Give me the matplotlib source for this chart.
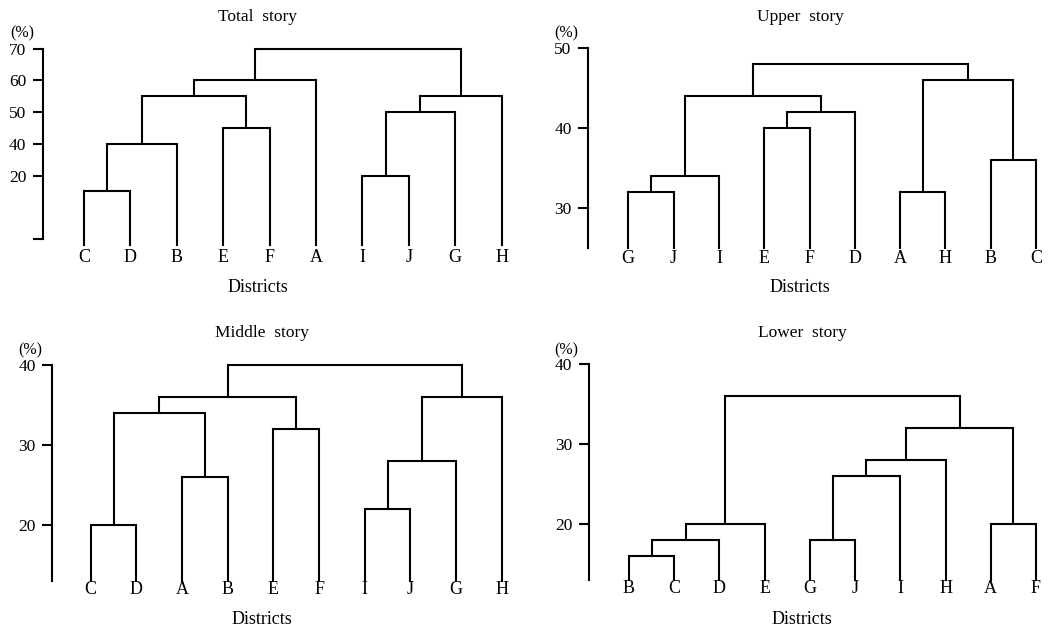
import numpy as np
import matplotlib
matplotlib.use('Agg')
import matplotlib.pyplot as plt

plt.rcParams['font.family'] = ['Liberation Serif', 'DejaVu Serif']

# -- data: leaf order and merges (left, right, height in %); ints refer to earlier merges
total_leaves  = ['C', 'D', 'B', 'E', 'F', 'A', 'I', 'J', 'G', 'H']
total_merges  = [('C', 'D', 15), (0, 'B', 40), ('E', 'F', 45), (1, 2, 55), (3, 'A', 60),
                 ('I', 'J', 20), (5, 'G', 50), (6, 'H', 55), (4, 7, 70)]
total_ticks   = [0, 20, 40, 50, 60, 70]
total_tlabels = ['', '20', '40', '50', '60', '70']

upper_leaves  = ['G', 'J', 'I', 'E', 'F', 'D', 'A', 'H', 'B', 'C']
upper_merges  = [('G', 'J', 32), (0, 'I', 34), ('E', 'F', 40), (2, 'D', 42), (1, 3, 44),
                 ('A', 'H', 32), ('B', 'C', 36), (5, 6, 46), (4, 7, 48)]
upper_ticks   = [30, 40, 50]

middle_leaves = ['C', 'D', 'A', 'B', 'E', 'F', 'I', 'J', 'G', 'H']
middle_merges = [('C', 'D', 20), ('A', 'B', 26), (0, 1, 34), ('E', 'F', 32), (2, 3, 36),
                 ('I', 'J', 22), (5, 'G', 28), (6, 'H', 36), (4, 7, 40)]
middle_ticks  = [20, 30, 40]

lower_leaves  = ['B', 'C', 'D', 'E', 'G', 'J', 'I', 'H', 'A', 'F']
lower_merges  = [('B', 'C', 16), (0, 'D', 18), (1, 'E', 20), ('G', 'J', 18), (3, 'I', 26),
                 (4, 'H', 28), ('A', 'F', 20), (5, 6, 32), (2, 7, 36)]
lower_ticks   = [20, 30, 40]

# the "Total story" axis is not linear: 20 -> 40 takes the same room as 40 -> 50
total_vals = [-20, 0, 20, 40, 50, 60, 70]
total_pos  = [0, 10, 30, 40, 50, 60, 70]

W, H = 1055, 630
fig  = plt.figure(figsize=(W / 100, H / 100), dpi=100)
fig.patch.set_facecolor('white')


def tree_segments(leaves, merges, base):
    xs   = {name: float(i) for i, name in enumerate(leaves)}
    hs   = {name: base for name in leaves}
    segs = []
    for k, (a, b, h) in enumerate(merges):
        segs.append(([xs[a], xs[a], xs[b], xs[b]], [hs[a], h, h, hs[b]]))
        xs[k] = 0.5 * (xs[a] + xs[b])
        hs[k] = h
    return segs


def panel(box, first, last, leaves, merges, ylim, ticks, tlabels, title,
          title_xy, pct_xy, dist_xy, leaf_pad, scale=None, spine_lo=None):
    left, top, right, bottom = box
    ax = fig.add_axes([left / W, 1 - bottom / H, (right - left) / W, (bottom - top) / H])
    n  = len(leaves)
    s  = (last - first) / (n - 1)
    ax.set_xlim(-(first - left) / s, n - 1 + (right - last) / s)
    if scale is not None:
        ax.set_yscale('function', functions=scale)
    ax.set_ylim(*ylim)

    for xx, yy in tree_segments(leaves, merges, ylim[0]):
        ax.plot(xx, yy, color='black', lw=1.5, clip_on=False, solid_joinstyle='miter')

    for side in ['top', 'right', 'bottom']:
        ax.spines[side].set_visible(False)
    ax.spines['left'].set_linewidth(1.5)
    if spine_lo is not None:
        ax.spines['left'].set_bounds(spine_lo, ylim[1])

    ax.set_yticks(ticks, labels=tlabels if tlabels else [str(t) for t in ticks])
    ax.tick_params(axis='y', direction='out', length=7.5, width=1.5, pad=4.5, labelsize=12.5)
    ax.set_xticks(range(n), labels=leaves)
    ax.tick_params(axis='x', length=0, pad=leaf_pad, labelsize=13)
    ax.patch.set_alpha(0)

    fig.text(title_xy[0] / W, 1 - title_xy[1] / H, title, ha='center', va='center', fontsize=12.5)
    fig.text(pct_xy[0] / W, 1 - pct_xy[1] / H, '(%)', ha='center', va='center', fontsize=11.5)
    fig.text(dist_xy[0] / W, 1 - dist_xy[1] / H, 'Districts', ha='center', va='center', fontsize=13)
    return ax


fwd = lambda v: np.interp(v, total_vals, total_pos)
inv = lambda p: np.interp(p, total_pos, total_vals)

panel((43, 48.7, 520, 245.3), 84, 501.7, total_leaves, total_merges, (-4, 70),
      total_ticks, total_tlabels, 'Total  story', (258, 17), (22, 33), (258, 288), 3,
      scale=(fwd, inv), spine_lo=0)

panel((588.3, 48.3, 1050, 248.3), 628.3, 1036, upper_leaves, upper_merges, (25, 50),
      upper_ticks, None, 'Upper  story', (800, 17), (566, 33), (800, 288), 1)

panel((52.3, 365, 520, 581), 90.7, 501.7, middle_leaves, middle_merges, (13, 40),
      middle_ticks, None, 'Middle  story', (262, 333), (30, 350), (262, 619), 0)

panel((589, 364, 1050, 580), 629, 1036, lower_leaves, lower_merges, (13, 40),
      lower_ticks, None, 'Lower  story', (802, 333), (566, 350), (802, 619), 0)

plt.savefig('out.png', dpi=100, facecolor='white')
